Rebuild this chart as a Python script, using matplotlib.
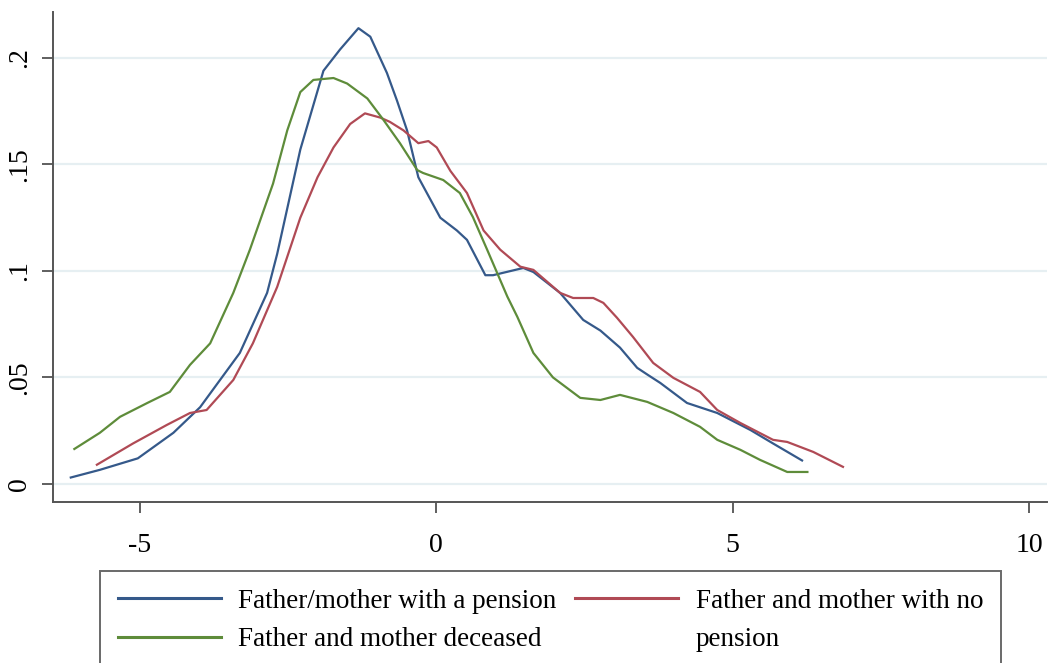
"""Kernel density of the outcome by parental pension status."""

import matplotlib

matplotlib.use("Agg")
import matplotlib.pyplot as plt
from matplotlib.lines import Line2D

# Curves (x, density)
pension_x = [-6.16, -5.67, -5.03, -4.43, -3.98, -3.31, -2.85, -2.68, -2.29, -1.9, -1.62,
             -1.31, -1.11, -0.83, -0.66, -0.49, -0.3, 0.07, 0.35, 0.52, 0.83, 0.96, 1.47,
             1.64, 2.09, 2.48, 2.77, 3.1, 3.39, 3.58, 3.78, 4.23, 4.74, 5.3, 5.68, 6.17]
pension_y = [0.003, 0.0066, 0.012, 0.024, 0.036, 0.0615, 0.0897, 0.108, 0.157, 0.194, 0.204,
             0.214, 0.210, 0.193, 0.180, 0.166, 0.144, 0.125, 0.119, 0.1146, 0.098, 0.098, 0.1014,
             0.0995, 0.0897, 0.077, 0.072, 0.064, 0.0545, 0.051, 0.0474, 0.038, 0.0333, 0.0253, 0.019, 0.011]

no_pension_x = [-5.72, -5.11, -4.54, -4.15, -3.87, -3.42, -3.09, -2.68, -2.29, -2.0, -1.73,
                -1.45, -1.2, -0.94, -0.78, -0.55, -0.3, -0.13, 0.01, 0.24, 0.52, 0.8, 1.08,
                1.42, 1.64, 2.09, 2.31, 2.65, 2.82, 3.05, 3.32, 3.66, 4.0, 4.45, 4.74, 5.13,
                5.68, 5.92, 6.36, 6.86]
no_pension_y = [0.009, 0.019, 0.0277, 0.0333, 0.0347, 0.0488, 0.066, 0.0925, 0.125, 0.144, 0.158,
                0.169, 0.174, 0.172, 0.170, 0.166, 0.160, 0.161, 0.158, 0.147, 0.1366, 0.119, 0.110,
                0.102, 0.1005, 0.0897, 0.0873, 0.0873, 0.085, 0.078, 0.069, 0.0568, 0.0498, 0.0432,
                0.0347, 0.0286, 0.0207, 0.0197, 0.015, 0.008]

deceased_x = [-6.1, -5.67, -5.33, -4.87, -4.49, -4.15, -3.81, -3.42, -3.14, -2.75, -2.51,
              -2.29, -2.07, -1.73, -1.5, -1.16, -0.89, -0.61, -0.32, -0.22, 0.12, 0.4, 0.62,
              0.86, 1.2, 1.37, 1.64, 1.97, 2.43, 2.77, 3.1, 3.56, 4.0, 4.45, 4.74, 5.13, 5.46,
              5.92, 6.26]
deceased_y = [0.0164, 0.024, 0.0315, 0.038, 0.0432, 0.0559, 0.066, 0.0897, 0.110, 0.141, 0.166,
              0.184, 0.1897, 0.1906, 0.188, 0.181, 0.171, 0.160, 0.1474, 0.146, 0.1427, 0.1366,
              0.1253, 0.110, 0.088, 0.0784, 0.0615, 0.050, 0.0404, 0.0394, 0.0418, 0.0385, 0.0333,
              0.0268, 0.0207, 0.016, 0.0113, 0.0056, 0.0056]

# legend reads column-wise: blue, green | red, (wrapped line of red label)
labels = [
    "Father/mother with a pension",
    "Father and mother deceased",
    "Father and mother with no",
    "pension",
]
x_ticks = [-5, 0, 5, 10]
y_ticks = [0, 0.05, 0.1, 0.15, 0.2]
y_tick_labels = ["0", ".05", ".1", ".15", ".2"]

plt.rcParams["font.family"] = ["Liberation Serif", "DejaVu Serif"]
plt.rcParams["axes.unicode_minus"] = False

fig = plt.figure(figsize=(10.49, 6.63), dpi=100)
ax = fig.add_axes([53 / 1049, 161 / 663, 994 / 1049, 490 / 663])

l1, = ax.plot(pension_x, pension_y, color="#35598a", lw=1.6)
l3, = ax.plot(no_pension_x, no_pension_y, color="#b04a55", lw=1.6)
l2, = ax.plot(deceased_x, deceased_y, color="#5e8c3a", lw=1.6)
blank = Line2D([], [], color="none")

ax.set_xlim(-6.46, 10.3)
ax.set_ylim(-0.0085, 0.2216)
ax.set_xticks(x_ticks)
ax.set_yticks(y_ticks)
ax.set_yticklabels(y_tick_labels, rotation=90, va="center")
ax.tick_params(axis="both", labelsize=20, length=8, width=1.2, color="#444444")
ax.tick_params(axis="x", pad=14)
ax.tick_params(axis="y", pad=7)
ax.yaxis.grid(True, color="#e6eff2", lw=1.6)
ax.set_axisbelow(True)
for side in ["top", "right"]:
    ax.spines[side].set_visible(False)
for side in ["left", "bottom"]:
    ax.spines[side].set_color("#555555")
    ax.spines[side].set_linewidth(1.4)

leg = fig.legend(
    [l1, l2, l3, blank], labels,
    ncol=2, loc="upper left", bbox_to_anchor=(100 / 1049, 92 / 663),
    fontsize=19.5, frameon=True, fancybox=False, edgecolor="#444444",
    handlelength=3.8, handletextpad=0.65, columnspacing=0.7,
    labelspacing=0.5, borderpad=0.65, borderaxespad=0,
)
leg.get_frame().set_linewidth(1.4)
for line in leg.get_lines():
    line.set_linewidth(2.2)

fig.savefig("out.png", dpi=100)
